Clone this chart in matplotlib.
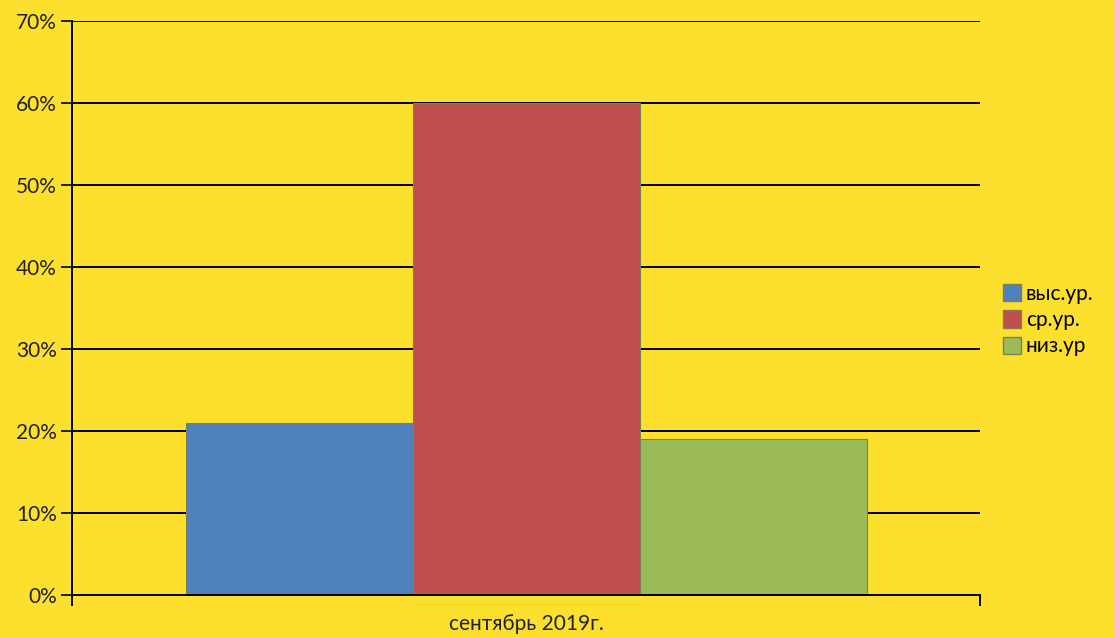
import matplotlib
matplotlib.use('Agg')
import matplotlib.pyplot as plt
from matplotlib.patches import Patch
from matplotlib.ticker import FuncFormatter

# data
category = 'сентябрь 2019г.'
series = ['выс.ур.', 'ср.ур.', 'низ.ур']
values = [21, 60, 19]
colors = ['#4f81bd', '#c0504d', '#9bbb59']
y_ticks = [0, 10, 20, 30, 40, 50, 60, 70]

bg = '#fde02e'

plt.rcParams['font.family'] = ['Lato', 'DejaVu Sans']

fig = plt.figure(figsize=(11.15, 6.38), dpi=100, facecolor=bg)
ax = fig.add_axes([72 / 1115, 1 - 595 / 638, 908 / 1115, 574 / 638])
ax.set_facecolor(bg)

# grid lines behind the bars
for t in y_ticks[1:]:
    ax.axhline(t, color='black', lw=1.4, zorder=1)

for i, (name, v, c) in enumerate(zip(series, values, colors)):
    ax.bar(i - 1, v, width=1.0, color=c, edgecolor='#7f7f5a', linewidth=0.8,
           zorder=2, label=name)

ax.set_xlim(-2, 2)
ax.set_ylim(0, 70)
ax.set_yticks(y_ticks)
ax.yaxis.set_major_formatter(FuncFormatter(lambda v, p: f'{int(v)}%'))
ax.set_xticks([-2, 2])
ax.set_xticklabels(['', ''])
ax.tick_params(axis='y', length=8, width=1.4, labelsize=15, pad=3, colors='#222222')
ax.tick_params(axis='x', length=8, width=1.4, direction='out')
ax.text(0, -2.3, category, ha='center', va='top', fontsize=15, color='#222222')

for s in ['top', 'right']:
    ax.spines[s].set_visible(False)
for s in ['left', 'bottom']:
    ax.spines[s].set_linewidth(1.4)

handles = [Patch(facecolor=c, edgecolor='#7f7f5a', label=n) for n, c in zip(series, colors)]
fig.legend(handles=handles, loc='upper left', bbox_to_anchor=(1003 / 1115, 1 - 284 / 638),
           frameon=False, fontsize=15, handlelength=0.85, handleheight=0.9,
           handletextpad=0.25, labelspacing=0.3, borderaxespad=0, borderpad=0)

fig.savefig('out.png', dpi=100, facecolor=bg)
